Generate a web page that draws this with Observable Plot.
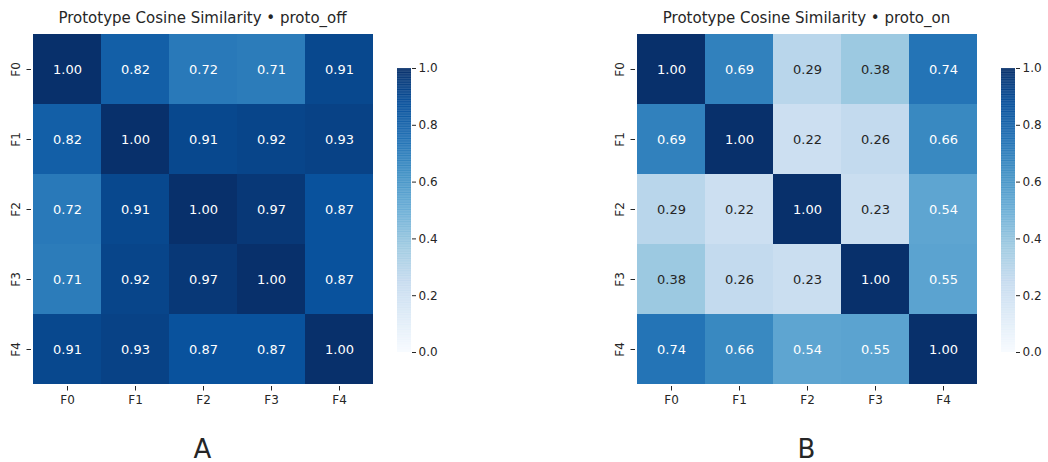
<!DOCTYPE html>
<html>
<head>
<meta charset="utf-8">
<script src="https://cdn.jsdelivr.net/npm/d3@7"></script>
<script src="https://cdn.jsdelivr.net/npm/@observablehq/plot@0.6"></script>
<style>
  html, body { margin: 0; padding: 0; background: #fff; }
  #root { position: relative; width: 1048px; height: 462px; font-family: "DejaVu Sans", sans-serif; color: #262626; }
  .abs { position: absolute; }
  .title { position: absolute; font-size: 15px; transform: translateX(-50%); white-space: nowrap; top: 9px; line-height: 1.2; }
  .panel { position: absolute; font-size: 26px; transform: translateX(-50%); top: 436px; line-height: 1; }
</style>
</head>
<body>
<div id="root"></div>
<script>
const labels = ["F0", "F1", "F2", "F3", "F4"];
const protoOff = [
  [1.00, 0.82, 0.72, 0.71, 0.91],
  [0.82, 1.00, 0.91, 0.92, 0.93],
  [0.72, 0.91, 1.00, 0.97, 0.87],
  [0.71, 0.92, 0.97, 1.00, 0.87],
  [0.91, 0.93, 0.87, 0.87, 1.00]
];
const protoOn = [
  [1.00, 0.69, 0.29, 0.38, 0.74],
  [0.69, 1.00, 0.22, 0.26, 0.66],
  [0.29, 0.22, 1.00, 0.23, 0.54],
  [0.38, 0.26, 0.23, 1.00, 0.55],
  [0.74, 0.66, 0.54, 0.55, 1.00]
];
const colorTicks = [0, 0.2, 0.4, 0.6, 0.8, 1.0];
const titles = ["Prototype Cosine Similarity \u2022 proto_off", "Prototype Cosine Similarity \u2022 proto_on"];
const panelLetters = ["A", "B"];

const blues = d3.piecewise(d3.interpolateRgb, ["#f7fbff","#deebf7","#c6dbef","#9ecae1","#6baed6","#4292c6","#2171b5","#08519c","#08306b"]);
const colorScale = {type: "linear", domain: [0, 1], interpolate: () => blues};

const root = document.getElementById("root");
const font = {fontFamily: "DejaVu Sans, sans-serif", fontSize: "12px", color: "#262626", background: "transparent"};

function heatmap(matrix) {
  const data = [];
  matrix.forEach((row, i) => row.forEach((v, j) => data.push({row: labels[i], col: labels[j], v})));
  return Plot.plot({
    width: 378, height: 390,
    marginLeft: 31, marginRight: 4, marginTop: 0, marginBottom: 36,
    style: font,
    x: {domain: labels, padding: 0, label: null},
    y: {domain: labels, padding: 0, label: null},
    color: colorScale,
    marks: [
      Plot.cell(data, {x: "col", y: "row", fill: "v", inset: 0}),
      Plot.text(data, {x: "col", y: "row", text: d => d.v.toFixed(2), fill: d => d.v < 0.45 ? "#262626" : "#ffffff", fontSize: 13}),
      Plot.axisX({tickSize: 4.5, tickPadding: 4, fontSize: 12, stroke: "#262626"}),
      Plot.axisY({tickSize: 4.5, tickFormat: () => "", stroke: "#262626"}),
      Plot.text(labels, {y: d => d, frameAnchor: "left", rotate: -90, dx: -15, textAnchor: "middle", fontSize: 12, fill: "#262626"})
    ]
  });
}

function colorbar() {
  const step = 0.0025;
  const stops = d3.range(0, 1, step);
  return Plot.plot({
    width: 60, height: 300,
    marginLeft: 8, marginRight: 38, marginTop: 8, marginBottom: 8,
    style: font,
    x: {domain: [0, 1], axis: null},
    y: {domain: [0, 1], label: null},
    color: colorScale,
    marks: [
      Plot.rect(stops, {x1: 0, x2: 1, y1: d => d, y2: d => Math.min(1, d + step + 0.001), fill: d => d + step / 2}),
      Plot.axisY(colorTicks, {anchor: "right", tickSize: 4, tickPadding: 3, tickFormat: d3.format(".1f"), fontSize: 12, stroke: "#262626"})
    ]
  });
}

const panels = [
  {m: protoOff, hx: 0, cx: 389},
  {m: protoOn, hx: 604, cx: 993}
];
panels.forEach((p, k) => {
  const h = heatmap(p.m);
  h.classList.add("abs");
  h.style.left = p.hx + "px";
  h.style.top = "32px";
  root.appendChild(h);
  const c = colorbar();
  c.classList.add("abs");
  c.style.left = p.cx + "px";
  c.style.top = "60px";
  root.appendChild(c);
  const center = p.hx + 31 + 343 / 2;
  const t = document.createElement("div");
  t.className = "title";
  t.style.left = center + "px";
  t.textContent = titles[k];
  root.appendChild(t);
  const l = document.createElement("div");
  l.className = "panel";
  l.style.left = center + "px";
  l.textContent = panelLetters[k];
  root.appendChild(l);
});
</script>
</body>
</html>
